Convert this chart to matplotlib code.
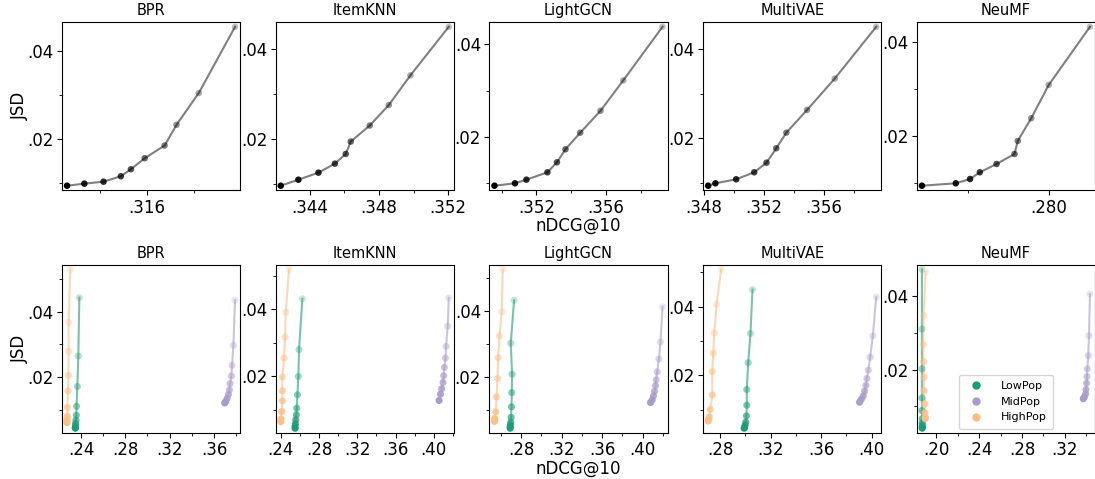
import numpy as np
import matplotlib
matplotlib.use("Agg")
import matplotlib.pyplot as plt
from matplotlib.colors import to_rgba
from matplotlib.lines import Line2D
from matplotlib.ticker import MultipleLocator, FuncFormatter

models = ["BPR", "ItemKNN", "LightGCN", "MultiVAE", "NeuMF"]
groups = ["LowPop", "MidPop", "HighPop"]
group_colors = ["#1b9e77", "#a99bcb", "#fdbf85"]

# --- top row: overall nDCG@10 vs JSD ---
bpr_ndcg = [0.31258, 0.31332, 0.31414, 0.31488, 0.31531, 0.3159, 0.31675, 0.31726, 0.31821, 0.31976]
bpr_jsd = [0.00945, 0.00991, 0.01036, 0.01159, 0.01318, 0.01568, 0.01855, 0.02325, 0.03045, 0.04545]
itemknn_ndcg = [0.34232, 0.34334, 0.3445, 0.34545, 0.34608, 0.34637, 0.34747, 0.34857, 0.34982, 0.35204]
itemknn_jsd = [0.00969, 0.01102, 0.01258, 0.01458, 0.01673, 0.01947, 0.02302, 0.02756, 0.03413, 0.04489]
lightgcn_ndcg = [0.34958, 0.35076, 0.35142, 0.35263, 0.35318, 0.35367, 0.35452, 0.35569, 0.357, 0.35926]
lightgcn_jsd = [0.00949, 0.01001, 0.01079, 0.01238, 0.01454, 0.01735, 0.02093, 0.02567, 0.03223, 0.0438]
multivae_ndcg = [0.34829, 0.34877, 0.35015, 0.35135, 0.35217, 0.35282, 0.35349, 0.35487, 0.35671, 0.35947]
multivae_jsd = [0.00935, 0.00989, 0.01079, 0.01236, 0.01452, 0.01775, 0.02126, 0.02636, 0.03339, 0.04501]
neumf_ndcg = [0.27688, 0.27771, 0.27806, 0.2783, 0.27871, 0.27915, 0.27923, 0.27956, 0.27999, 0.281]
neumf_jsd = [0.00946, 0.00997, 0.01088, 0.0123, 0.01406, 0.01618, 0.01894, 0.02375, 0.03082, 0.04312]

# --- bottom row: per popularity group ---
bpr_low_ndcg = [0.2349, 0.2349, 0.2351, 0.2351, 0.2355, 0.2358, 0.2360, 0.2367, 0.2376, 0.2385]
bpr_low_jsd = [0.00447, 0.00469, 0.00518, 0.00591, 0.00691, 0.00843, 0.01117, 0.01717, 0.02648, 0.04426]
bpr_mid_ndcg = [0.3697, 0.3706, 0.3718, 0.3730, 0.3739, 0.3745, 0.3757, 0.3763, 0.3775, 0.3790]
bpr_mid_jsd = [0.01218, 0.0126, 0.01352, 0.01473, 0.01613, 0.01808, 0.0204, 0.02365, 0.02974, 0.04344]
bpr_high_ndcg = [0.2274, 0.2274, 0.2274, 0.2277, 0.2277, 0.2283, 0.2286, 0.2289, 0.2289, 0.2304]
bpr_high_jsd = [0.00621, 0.00651, 0.00721, 0.00822, 0.01078, 0.01583, 0.02061, 0.02791, 0.03683, 0.05288]

itemknn_low_ndcg = [0.255, 0.255, 0.2553, 0.2557, 0.2563, 0.2567, 0.2574, 0.2584, 0.2591, 0.2626]
itemknn_low_jsd = [0.0045, 0.005, 0.0058, 0.007, 0.0085, 0.0105, 0.0145, 0.02, 0.028, 0.0432]
itemknn_mid_ndcg = [0.4056, 0.407, 0.4083, 0.4097, 0.4104, 0.4111, 0.4122, 0.4129, 0.4146, 0.4157]
itemknn_mid_jsd = [0.0128, 0.0147, 0.0163, 0.0182, 0.0202, 0.0227, 0.0255, 0.029, 0.035, 0.0435]
itemknn_high_ndcg = [0.24, 0.2403, 0.241, 0.2417, 0.2417, 0.2417, 0.2435, 0.2445, 0.2452, 0.2487]
itemknn_high_jsd = [0.0065, 0.0073, 0.0095, 0.0127, 0.0157, 0.0198, 0.0255, 0.0318, 0.0392, 0.052]

lightgcn_low_ndcg = [0.2692, 0.2692, 0.2695, 0.2698, 0.2701, 0.2705, 0.2708, 0.2711, 0.2698, 0.2731]
lightgcn_low_jsd = [0.0044, 0.0048, 0.0054, 0.0062, 0.0077, 0.0109, 0.0152, 0.0208, 0.0302, 0.0432]
lightgcn_mid_ndcg = [0.4079, 0.4095, 0.4108, 0.4118, 0.4128, 0.4135, 0.4144, 0.4161, 0.4177, 0.4197]
lightgcn_mid_jsd = [0.0122, 0.013, 0.0142, 0.0156, 0.0173, 0.0191, 0.0215, 0.0254, 0.0306, 0.0412]
lightgcn_high_ndcg = [0.2537, 0.2537, 0.254, 0.255, 0.2557, 0.2567, 0.2573, 0.2586, 0.2609, 0.2619]
lightgcn_high_jsd = [0.0065, 0.0069, 0.0074, 0.0094, 0.0139, 0.0195, 0.0258, 0.0324, 0.0397, 0.0526]

multivae_low_ndcg = [0.299, 0.2993, 0.2998, 0.3003, 0.3008, 0.3011, 0.3011, 0.3022, 0.304, 0.3056]
multivae_low_jsd = [0.0046, 0.0049, 0.0055, 0.0064, 0.0082, 0.0113, 0.0159, 0.0237, 0.0322, 0.045]
multivae_mid_ndcg = [0.3905, 0.3918, 0.3934, 0.3945, 0.3955, 0.3963, 0.3974, 0.3989, 0.401, 0.4037]
multivae_mid_jsd = [0.0122, 0.013, 0.014, 0.0154, 0.0171, 0.0191, 0.0215, 0.0253, 0.0315, 0.0428]
multivae_high_ndcg = [0.2705, 0.2708, 0.2713, 0.2721, 0.2737, 0.2737, 0.2745, 0.2753, 0.2771, 0.2808]
multivae_high_jsd = [0.0067, 0.0072, 0.0079, 0.0101, 0.0143, 0.0211, 0.0265, 0.0324, 0.0407, 0.0509]

neumf_low_ndcg = [0.1869, 0.1869, 0.1869, 0.1869, 0.1869, 0.1866, 0.1866, 0.1866, 0.1866, 0.1866]
neumf_low_jsd = [0.0041, 0.0044, 0.0049, 0.0055, 0.0067, 0.0089, 0.0123, 0.0202, 0.031, 0.0472]
neumf_mid_ndcg = [0.3372, 0.3381, 0.3393, 0.3397, 0.3403, 0.3406, 0.3409, 0.3418, 0.3425, 0.3434]
neumf_mid_jsd = [0.0121, 0.0125, 0.0134, 0.0146, 0.0163, 0.0181, 0.0202, 0.0238, 0.0292, 0.0405]
neumf_high_ndcg = [0.1897, 0.1897, 0.1894, 0.1894, 0.1885, 0.1885, 0.1882, 0.1878, 0.1882, 0.19]
neumf_high_jsd = [0.0067, 0.0071, 0.0083, 0.0107, 0.0143, 0.0179, 0.0222, 0.0268, 0.0346, 0.0465]

top_data = [
    (bpr_ndcg, bpr_jsd),
    (itemknn_ndcg, itemknn_jsd),
    (lightgcn_ndcg, lightgcn_jsd),
    (multivae_ndcg, multivae_jsd),
    (neumf_ndcg, neumf_jsd),
]
bottom_data = [
    [(bpr_low_ndcg, bpr_low_jsd), (bpr_mid_ndcg, bpr_mid_jsd), (bpr_high_ndcg, bpr_high_jsd)],
    [(itemknn_low_ndcg, itemknn_low_jsd), (itemknn_mid_ndcg, itemknn_mid_jsd), (itemknn_high_ndcg, itemknn_high_jsd)],
    [(lightgcn_low_ndcg, lightgcn_low_jsd), (lightgcn_mid_ndcg, lightgcn_mid_jsd), (lightgcn_high_ndcg, lightgcn_high_jsd)],
    [(multivae_low_ndcg, multivae_low_jsd), (multivae_mid_ndcg, multivae_mid_jsd), (multivae_high_ndcg, multivae_high_jsd)],
    [(neumf_low_ndcg, neumf_low_jsd), (neumf_mid_ndcg, neumf_mid_jsd), (neumf_high_ndcg, neumf_high_jsd)],
]


def no_zero(fmt):
    return FuncFormatter(lambda v, pos: format(v, fmt).replace("0.", ".", 1))


def fading(color, n):
    # darkest point first, lighter as the JSD grows
    alphas = np.linspace(1.0, 0.25, n)
    return [to_rgba(color, a) for a in alphas]


def style_axis(ax, title, xstep, xfmt):
    ax.margins(0.03)
    ax.set_title(title, fontsize=10.5, pad=5)
    ax.xaxis.set_major_locator(MultipleLocator(xstep))
    ax.xaxis.set_minor_locator(MultipleLocator(xstep / 2))
    ax.xaxis.set_major_formatter(no_zero(xfmt))
    ax.yaxis.set_major_locator(MultipleLocator(0.02))
    ax.yaxis.set_minor_locator(MultipleLocator(0.01))
    ax.yaxis.set_major_formatter(no_zero(".2f"))
    ax.tick_params(labelsize=12, length=3.5, pad=2.5)
    ax.tick_params(which="minor", length=2)


fig, axes = plt.subplots(2, 5, figsize=(10.95, 4.79), dpi=100)
fig.subplots_adjust(left=0.0566, right=1.0, top=0.954, bottom=0.096, wspace=0.2, hspace=0.44)

for i, model in enumerate(models):
    # top row
    ax = axes[0, i]
    x, y = top_data[i]
    ax.plot(x, y, color="#808080", linewidth=1.5, zorder=1)
    ax.scatter(x, y, s=22, c=fading("black", len(x)), edgecolors="none", zorder=2)
    style_axis(ax, model, 0.004, ".3f")

    # bottom row
    ax = axes[1, i]
    for (gx, gy), col in zip(bottom_data[i], group_colors):
        ax.plot(gx, gy, color=col, alpha=0.6, linewidth=1.5, zorder=1)
        ax.scatter(gx, gy, s=26, c=fading(col, len(gx)), edgecolors="none", zorder=2)
    style_axis(ax, model, 0.04, ".2f")

for row in range(2):
    axes[row, 0].set_ylabel("JSD", fontsize=12, labelpad=-1)
    axes[row, 2].set_xlabel("nDCG@10", fontsize=12, labelpad=0)

handles = [Line2D([], [], marker="o", linestyle="none", color=c, markersize=5) for c in group_colors]
axes[1, 4].legend(handles, groups, loc="lower center", fontsize=8, handletextpad=1.2,
                  borderpad=0.6, labelspacing=0.5, borderaxespad=0.35)

plt.savefig("out.png", dpi=100)
